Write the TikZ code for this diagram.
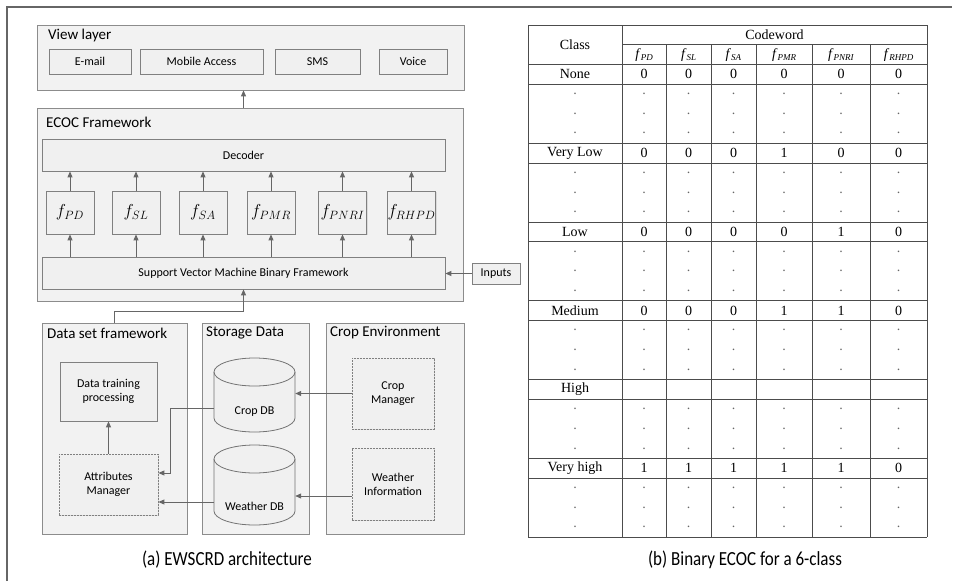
\documentclass[tikz,border=0pt]{standalone}
\usepackage{fontspec}
\setmainfont{Liberation Serif}
\newfontfamily\carl{Carlito}
\usetikzlibrary{arrows.meta,calc,shadows}
\newcommand\mycyl[3]{%
 \filldraw[cylstyle] ({#1pt-40.5pt},{-#2pt+#3pt/2-14pt}) -- ({#1pt-40.5pt},{-#2pt-#3pt/2+14pt})
   arc[start angle=180,end angle=360,x radius=40.5pt,y radius=14pt]
   -- ({#1pt+40.5pt},{-#2pt+#3pt/2-14pt})
   arc[start angle=0,end angle=180,x radius=40.5pt,y radius=14pt] -- cycle;
 \draw[cylline] ({#1pt-40.5pt},{-#2pt+#3pt/2-14pt})
   arc[start angle=180,end angle=360,x radius=40.5pt,y radius=14pt];
}
\begin{document}
\begin{tikzpicture}[x=1pt,y=-1pt,
 cont/.style={draw=black!45, fill=black!5, line width=0.8pt, inner sep=0,
   drop shadow={opacity=0.2, shadow xshift=1pt, shadow yshift=-1pt}},
 ibox/.style={draw=black!50, fill=black!6, line width=0.8pt, inner sep=0,
   font=\carl\fontsize{12}{14}\selectfont, align=center,
   drop shadow={opacity=0.2, shadow xshift=1pt, shadow yshift=-1pt}},
 dbox/.style={ibox, dash pattern=on 2pt off 1pt},
 cylstyle/.style={draw=black!55, fill=black!6, line width=0.8pt},
 cylline/.style={draw=black!55, line width=0.8pt},
 arr/.style={draw=black!60, line width=0.9pt, -{Triangle[length=6pt,width=5pt]}},
 ttl/.style={anchor=west, font=\carl\fontsize{15}{17}\selectfont, inner sep=0},
 lbl/.style={font=\carl\fontsize{12}{14}\selectfont, inner sep=0, align=center},
 fbox/.style={ibox, minimum width=48pt, minimum height=43pt, font=\fontsize{17}{20}\selectfont},
 tline/.style={draw=black!70, line width=0.7pt},
 tcell/.style={font=\fontsize{14}{16}\selectfont, inner sep=0},
 dotc/.style={font=\fontsize{14}{16}\selectfont, inner sep=0, text=black!60},
 capt/.style={font=\carl\fontsize{20}{23}\selectfont, inner sep=0}
]
\useasboundingbox (0,0) rectangle (957,581);
% outer frame
\draw[black!60, line width=1.5pt] (7,581) -- (7,7) -- (952,7);

% ---------- (a) architecture ----------
\node[cont, minimum width=427pt, minimum height=65pt] (view) at (250.5,57.5) {};
\node[ttl] (viewt) at (48,35) {View layer};
\node[ibox, minimum width=82pt, minimum height=25pt] (email) at (90,61.5) {E-mail};
\node[ibox, minimum width=123pt, minimum height=25pt] (mobile) at (201.5,61.5) {Mobile Access};
\node[ibox, minimum width=85pt, minimum height=25pt] (sms) at (317.5,61.5) {SMS};
\node[ibox, minimum width=68pt, minimum height=25pt] (voice) at (413,61.5) {Voice};

\node[cont, minimum width=426pt, minimum height=193pt] (ecoc) at (250,204.5) {};
\node[ttl] (ecoct) at (46,122) {ECOC Framework};
\node[ibox, minimum width=403pt, minimum height=32pt] (decoder) at (243.5,155) {Decoder};
\node[fbox] (f1) at (70,212.5) {$f_{PD}$};
\node[fbox] (f2) at (136,212.5) {$f_{SL}$};
\node[fbox] (f3) at (203,212.5) {$f_{SA}$};
\node[fbox] (f4) at (271,212.5) {$f_{PMR}$};
\node[fbox] (f5) at (342.5,212.5) {$f_{PNRI}$};
\node[fbox] (f6) at (411.5,212.5) {$f_{RHPD}$};
\node[ibox, minimum width=403pt, minimum height=32pt] (svm) at (243.5,273) {Support Vector Machine Binary Framework};
\node[ibox, minimum width=48pt, minimum height=21pt] (inputs) at (496,273.5) {Inputs};

\node[cont, minimum width=145pt, minimum height=211pt] (dataset) at (114.5,428.5) {};
\node[ttl] (datasett) at (47,333) {Data set framework};
\node[cont, minimum width=107pt, minimum height=211pt] (storage) at (255.5,428.5) {};
\node[ttl] (storaget) at (206,333) {Storage Data};
\node[cont, minimum width=138pt, minimum height=211pt] (cropenv) at (395,428.5) {};
\node[ttl] (cropenvt) at (330,333) {Crop Environment};

\node[ibox, minimum width=97pt, minimum height=59pt] (dtp) at (108.5,391.5) {Data training\\processing};
\node[dbox, minimum width=99pt, minimum height=61pt] (attr) at (108.5,484.5) {Attributes\\Manager};
\node[dbox, minimum width=82pt, minimum height=71pt] (cropmgr) at (393,393.5) {Crop\\Manager};
\node[dbox, minimum width=82pt, minimum height=72pt] (weatherinfo) at (393,484) {Weather\\Information};

\mycyl{254.5}{395}{74}
\mycyl{254.5}{485}{80}
\node[minimum width=81pt, minimum height=74pt, inner sep=0] (cropdb) at (254.5,395) {};
\node[minimum width=81pt, minimum height=80pt, inner sep=0] (weatherdb) at (254.5,485) {};
\node[lbl] (cropdbt) at (254.5,412) {Crop DB};
\node[lbl] (weatherdbt) at (254.5,506) {Weather DB};

% arrows
\draw[arr] (ecoc.north -| decoder.north) -- (view.south -| decoder.north);
\foreach \f in {f1,f2,f3,f4,f5,f6}{
  \draw[arr] (svm.north -| \f.south) -- (\f.south);
  \draw[arr] (\f.north) -- (decoder.south -| \f.north);
}
\draw[arr] (inputs.west) -- (inputs.west -| svm.east);
\draw[arr] (dataset.north) -- ++(0,-11) -| (svm.south);
\draw[arr] (attr.north) -- (dtp.south);
\draw[arr] (cropmgr.west) -- (cropmgr.west -| cropdb.east);
\coordinate (wi) at ($(weatherinfo.west)+(0,12)$);
\draw[arr] (wi) -- (wi -| weatherdb.east);
\draw[arr] ($(cropdb.west)+(0,13)$) -- ++(-43,0) |- ($(attr.east)+(0,-11.5)$);
\coordinate (w1) at ($(weatherdb.west)+(0,17)$);
\draw[arr] (w1) -- (w1 -| attr.east);

\node[capt] (capa) at (227,560) {\scalebox{0.85}[1]{(a) EWSCRD architecture}};

% ---------- (b) table ----------
\foreach \k in {0,2,3,6,7,10,11,14,15,18,19,22,23,26}
  \draw[tline] (528,{25+\k*19.7}) -- (927,{25+\k*19.7});
\draw[tline] (622,44.7) -- (927,44.7);
\foreach \xx in {528,622,927}
  \draw[tline] (\xx,25) -- (\xx,537.2);
\foreach \xx in {666,711,756,812,870}
  \draw[tline] (\xx,44.7) -- (\xx,537.2);

\node[tcell] (hclass) at (575,45) {Class};
\node[tcell] (hcode) at (774.5,35) {Codeword};
\foreach \cx/\s [count=\c] in {644/PD,688.5/SL,733.5/SA,784/PMR,841/PNRI,898.5/RHPD}
  \node[tcell] (hf\c) at (\cx,55) {\textit{f}\raisebox{-2pt}{\fontsize{9}{10}\selectfont\textit{\s}}};

\foreach \k/\nm [count=\r] in {2/None,6/Very Low,10/Low,14/Medium,18/High,22/Very high}
  \node[tcell] (cls\r) at (575,{25+(\k+0.5)*19.7}) {\nm};

\foreach \cx/\a/\b/\cc/\d/\e [count=\c] in {644/0/0/0/0/1, 688.5/0/0/0/0/1, 733.5/0/0/0/0/1, 784/0/1/0/1/1, 841/0/0/1/1/1, 898.5/0/0/0/0/0}{
  \node[tcell] (v1-\c) at (\cx,{25+2.5*19.7}) {\a};
  \node[tcell] (v2-\c) at (\cx,{25+6.5*19.7}) {\b};
  \node[tcell] (v3-\c) at (\cx,{25+10.5*19.7}) {\cc};
  \node[tcell] (v4-\c) at (\cx,{25+14.5*19.7}) {\d};
  \node[tcell] (v6-\c) at (\cx,{25+22.5*19.7}) {\e};
}
\foreach \cx [count=\c] in {575,644,688.5,733.5,784,841,898.5}
  \foreach \k in {3,4,5,7,8,9,11,12,13,15,16,17,19,20,21,23,24,25}
    \node[dotc] (dot-\k-\c) at (\cx,{25+(\k+0.5)*19.7}) {.};

\node[capt] (capb) at (745,560) {\scalebox{0.85}[1]{(b) Binary ECOC for a 6-class}};
\end{tikzpicture}
\end{document}
